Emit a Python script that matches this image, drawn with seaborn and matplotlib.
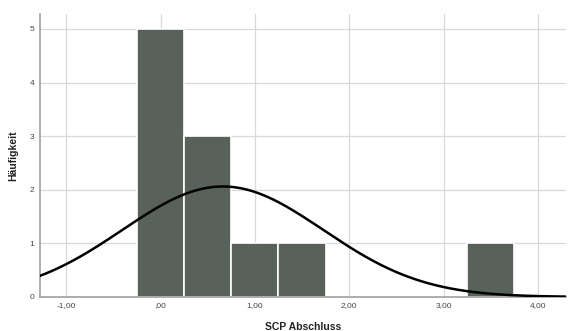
import numpy as np
import pandas as pd
import matplotlib
matplotlib.use("Agg")
import matplotlib.pyplot as plt
import seaborn as sns

# histogram bins (centers) and counts
bin_centers = [0.0, 0.5, 1.0, 1.5, 3.5]
counts = [5, 3, 1, 1, 1]
bin_width = 0.5

# normal curve parameters (SPSS overlay)
mean_val = 0.66
sd_val = 1.065
n_total = sum(counts)

xticks = [-1, 0, 1, 2, 3, 4]
xtick_labels = ["-1,00", ",00", "1,00", "2,00", "3,00", "4,00"]
yticks = [0, 1, 2, 3, 4, 5]

sns.set_style("white")
plt.rcParams['font.family'] = ['Liberation Sans', 'DejaVu Sans']

fig = plt.figure(figsize=(5.69, 3.31), dpi=100)
ax = fig.add_axes([0.070, 0.103, 0.925, 0.855])

df = pd.DataFrame({"x": bin_centers, "n": counts})
sns.histplot(data=df, x="x", weights="n", binwidth=bin_width, binrange=(-0.25, 3.75), ax=ax,
             color="#59615b", alpha=1, edgecolor="white", linewidth=1.2, zorder=2)

# normal curve
xs = np.linspace(-1.3, 4.3, 400)
ys = n_total * bin_width / (sd_val * np.sqrt(2 * np.pi)) * np.exp(-0.5 * ((xs - mean_val) / sd_val) ** 2)
ax.plot(xs, ys, color="black", lw=1.8, zorder=3)

ax.set_xlim(-1.28, 4.3)
ax.set_ylim(0, 5.28)
ax.set_xticks(xticks)
ax.set_xticklabels(xtick_labels)
ax.set_yticks(yticks)
ax.grid(True, color="#d9d9d9", lw=0.9, zorder=0)
ax.set_axisbelow(True)
ax.tick_params(length=0, labelsize=6, colors="#444444", pad=4)
for s in ["top", "right"]:
    ax.spines[s].set_visible(False)
for s in ["left", "bottom"]:
    ax.spines[s].set_color("#a0a0a0")
    ax.spines[s].set_linewidth(1.2)

ax.set_xlabel("SCP Abschluss", fontsize=7.5, fontweight="bold", color="#222222", labelpad=9)
ax.set_ylabel("Häufigkeit", fontsize=7.5, fontweight="bold", color="#222222", labelpad=8)

fig.savefig("out.png", dpi=100)
